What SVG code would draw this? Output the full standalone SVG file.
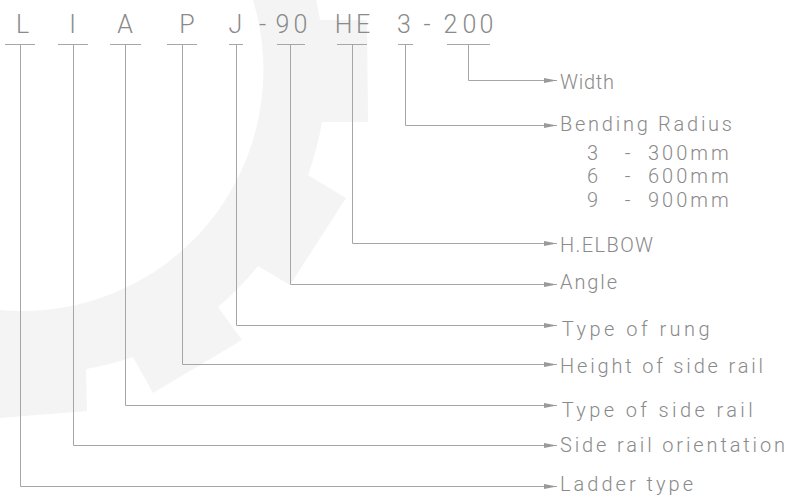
<svg xmlns="http://www.w3.org/2000/svg" width="790" height="496" viewBox="0 0 790 496">
<style>
.code{font-family:Roboto,"Liberation Sans",sans-serif;font-weight:300;font-size:25px;fill:#8a8a8a;text-anchor:middle}
.lbl{font-family:Roboto,"Liberation Sans",sans-serif;font-weight:300;font-size:20px;fill:#8a8a8a}
.num{letter-spacing:3px}
.ul{stroke:#a6a6a6;stroke-width:1;fill:none}
.conn{stroke:#a6a6a6;stroke-width:1;fill:none;marker-end:url(#arr)}
</style>
<defs>
<marker id="arr" markerUnits="userSpaceOnUse" markerWidth="14" markerHeight="6" refX="13" refY="3" orient="auto">
<path d="M0,0.6 L13,3 L0,5.4 Z" fill="#9a9a9a"/>
</marker>
</defs>
<rect width="790" height="496" fill="#ffffff"/>
<path id="watermark" fill="#f4f4f4" d="M253,-5 L316,-5 L316,0 A303,303 0 0 1 320,20 L367,20 L368,122 L322,122 A303,303 0 0 1 308,175 L346,198 L290,285 L258,266 A306,306 0 0 1 218,307 L242,340 L153,393 L133,357 A306,306 0 0 1 86,369 L87,411 L0,418 L-5,418.5 L-5,310 L0,310 A241,241 0 0 0 253,0 Z"/>
<g id="code-L"><text class="code" x="22.5" y="32.5">L</text><path class="ul" d="M5,44.5 H35"/></g>
<g id="code-I"><text class="code" x="72.5" y="32.5">I</text><path class="ul" d="M58,44.5 H88"/></g>
<g id="code-A"><text class="code" x="125" y="32.5">A</text><path class="ul" d="M110,44.5 H141"/></g>
<g id="code-P"><text class="code" x="187" y="32.5">P</text><path class="ul" d="M167,44.5 H197"/></g>
<g id="code-J"><text class="code" x="235.5" y="32.5">J</text><path class="ul" d="M229,44.5 H243"/></g>
<g id="code-90"><text class="code" x="262.5" y="32.5">-</text><text class="code" x="282.5" y="32.5">9</text><text class="code" x="300.5" y="32.5">0</text><path class="ul" d="M277,44.5 H305"/></g>
<g id="code-HE"><text class="code" x="343.5" y="32.5">H</text><text class="code" x="363" y="32.5">E</text><path class="ul" d="M337,44.5 H367"/></g>
<g id="code-3"><text class="code" x="404" y="32.5">3</text><text class="code" x="427" y="32.5">-</text><path class="ul" d="M398,44.5 H413"/></g>
<g id="code-200"><text class="code" x="450.5" y="32.5">2</text><text class="code" x="469.5" y="32.5">0</text><text class="code" x="486.5" y="32.5">0</text><path class="ul" d="M447,44.5 H490"/></g>
<g id="connectors">
<path class="conn" d="M468.5,44.5 V80.5 H557"/>
<path class="conn" d="M405.5,44.5 V125.5 H557"/>
<path class="conn" d="M352.5,44.5 V243.5 H557"/>
<path class="conn" d="M290.5,44.5 V284.5 H557"/>
<path class="conn" d="M236.5,44.5 V325.5 H557"/>
<path class="conn" d="M182.5,44.5 V364.5 H557"/>
<path class="conn" d="M125.5,44.5 V405.5 H557"/>
<path class="conn" d="M73.5,44.5 V445.5 H557"/>
<path class="conn" d="M20.5,44.5 V486.5 H557"/>
</g>
<g id="label-width"><text class="lbl" x="560" y="89.3" textLength="54">Width</text></g>
<g id="label-bending"><text class="lbl" x="560" y="131" textLength="172">Bending Radius</text>
<text class="lbl" y="160"><tspan x="587">3</tspan><tspan x="620"> - </tspan><tspan class="num" x="648">300mm</tspan></text>
<text class="lbl" y="183.3"><tspan x="587">6</tspan><tspan x="620"> - </tspan><tspan class="num" x="648">600mm</tspan></text>
<text class="lbl" y="206.7"><tspan x="587">9</tspan><tspan x="620"> - </tspan><tspan class="num" x="648">900mm</tspan></text></g>
<g id="label-helbow"><text class="lbl" x="560" y="251.7" textLength="93">H.ELBOW</text></g>
<g id="label-angle"><text class="lbl" x="560" y="289.3" textLength="57">Angle</text></g>
<g id="label-rung"><text class="lbl" x="561.7" y="335.7" textLength="148">Type of rung</text></g>
<g id="label-height"><text class="lbl" x="560" y="373.3" textLength="203">Height of side rail</text></g>
<g id="label-siderail"><text class="lbl" x="561.7" y="416.7" textLength="191">Type of side rail</text></g>
<g id="label-orientation"><text class="lbl" x="560" y="451.7" textLength="225">Side rail orientation</text></g>
<g id="label-ladder"><text class="lbl" x="560" y="491" textLength="133">Ladder type</text></g>
</svg>
